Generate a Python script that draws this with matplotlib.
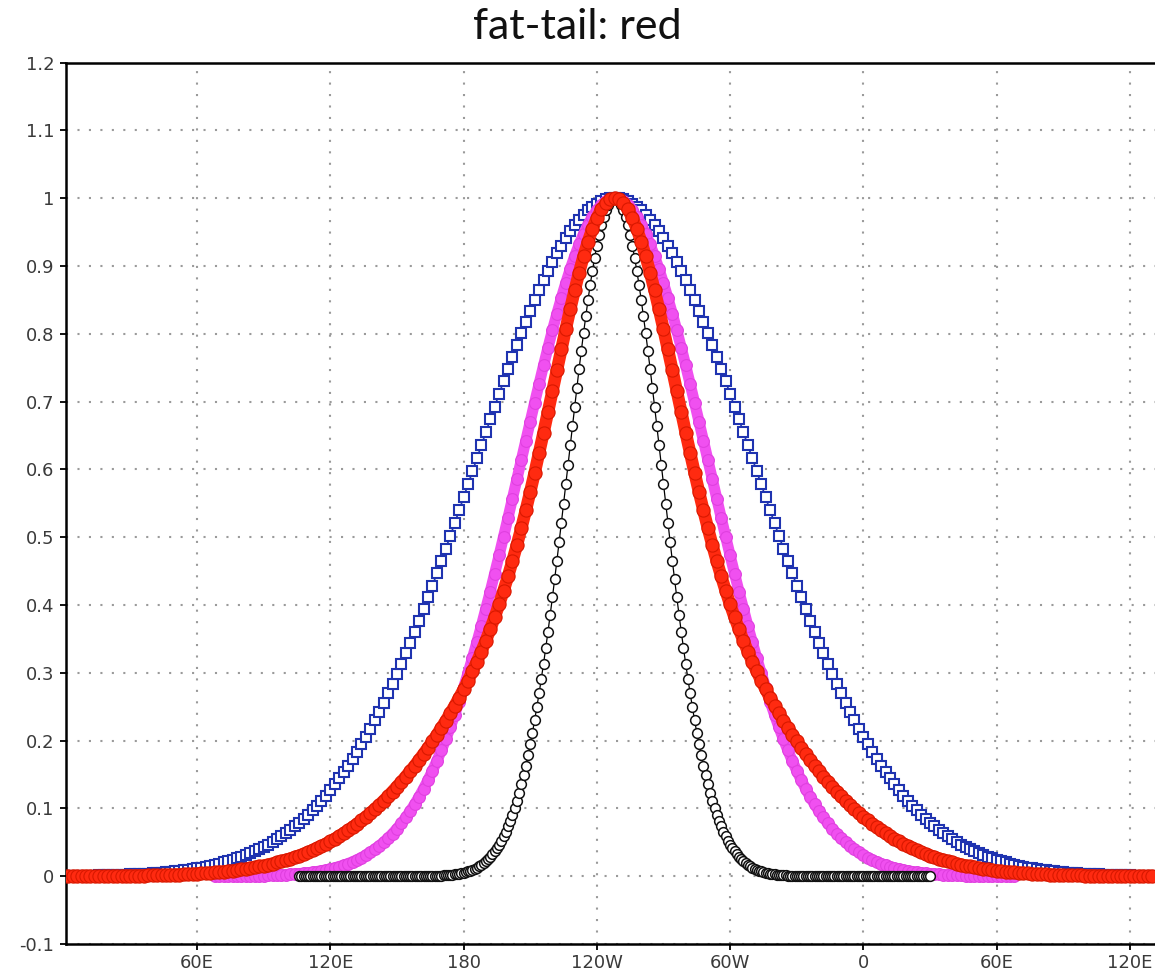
import numpy as np
import matplotlib
matplotlib.use('Agg')
import matplotlib.pyplot as plt

# ---------------- data ----------------
title_text = 'fat-tail: red'

xtick_pos = [60, 120, 180, 240, 300, 360, 420, 480]
xtick_lab = ['60E', '120E', '180', '120W', '60W', '0', '60E', '120E']
ytick_pos = [-0.1, 0.0, 0.1, 0.2, 0.3, 0.4, 0.5, 0.6, 0.7, 0.8, 0.9, 1.0, 1.1, 1.2]
ytick_lab = ['-0.1', '0', '0.1', '0.2', '0.3', '0.4', '0.5', '0.6', '0.7', '0.8',
             '0.9', '1', '1.1', '1.2']

# blue squares: longitudes 0..490 every 2 degrees
blue_lon = np.arange(0, 491, 2)
blue_val = [
    .0004, .0005, .0006, .0006, .0007,
    .0008, .0009, .0010, .0011, .0013,
    .0014, .0016, .0018, .0020, .0022,
    .0025, .0028, .0031, .0035, .0039,
    .0043, .0048, .0053, .0059, .0065,
    .0072, .0079, .0087, .0096, .0106,
    .0116, .0128, .0140, .0154, .0169,
    .0185, .0202, .0221, .0241, .0262,
    .0286, .0311, .0338, .0367, .0397,
    .0431, .0466, .0504, .0544, .0587,
    .0633, .0682, .0734, .0788, .0846,
    .0908, .0973, .1041, .1114, .1190,
    .1270, .1353, .1441, .1533, .1630,
    .1731, .1836, .1945, .2059, .2178,
    .2301, .2428, .2560, .2696, .2837,
    .2982, .3132, .3285, .3443, .3604,
    .3770, .3939, .4111, .4287, .4465,
    .4647, .4831, .5017, .5204, .5394,
    .5585, .5777, .5969, .6162, .6354,
    .6546, .6736, .6926, .7113, .7298,
    .7481, .7660, .7836, .8007, .8175,
    .8337, .8494, .8645, .8790, .8928,
    .9060, .9184, .9300, .9408, .9509,
    .9600, .9683, .9756, .9820, .9875,
    .9920, .9955, .9980, .9995, 1.0,
    .9995, .9980, .9955, .9920, .9875,
    .9820, .9756, .9683, .9600, .9509,
    .9408, .9300, .9184, .9060, .8928,
    .8790, .8645, .8494, .8337, .8175,
    .8007, .7836, .7660, .7481, .7298,
    .7113, .6926, .6736, .6546, .6354,
    .6162, .5969, .5777, .5585, .5394,
    .5204, .5017, .4831, .4647, .4465,
    .4287, .4111, .3939, .3770, .3604,
    .3443, .3285, .3132, .2982, .2837,
    .2696, .2560, .2428, .2301, .2178,
    .2059, .1945, .1836, .1731, .1630,
    .1533, .1441, .1353, .1270, .1190,
    .1114, .1041, .0973, .0908, .0846,
    .0788, .0734, .0682, .0633, .0587,
    .0544, .0504, .0466, .0431, .0397,
    .0367, .0338, .0311, .0286, .0262,
    .0241, .0221, .0202, .0185, .0169,
    .0154, .0140, .0128, .0116, .0106,
    .0096, .0087, .0079, .0072, .0065,
    .0059, .0053, .0048, .0043, .0039,
    .0035, .0031, .0028, .0025, .0022,
    .0020, .0018, .0016, .0014, .0013,
    .0011, .0010, .0009, .0008, .0007,
    .0006,
]

# red (fat tail): longitudes 0..490 every 2 degrees
red_lon = np.arange(0, 491, 2)
red_val = [
    .0001, .0001, .0001, .0002, .0002,
    .0002, .0002, .0002, .0003, .0003,
    .0004, .0004, .0005, .0005, .0006,
    .0007, .0008, .0009, .0010, .0011,
    .0012, .0014, .0015, .0017, .0019,
    .0022, .0024, .0027, .0030, .0033,
    .0037, .0041, .0045, .0050, .0056,
    .0061, .0068, .0075, .0082, .0090,
    .0099, .0109, .0119, .0131, .0143,
    .0156, .0170, .0186, .0202, .0220,
    .0239, .0259, .0281, .0304, .0329,
    .0355, .0383, .0413, .0445, .0478,
    .0514, .0551, .0591, .0633, .0677,
    .0723, .0771, .0822, .0876, .0931,
    .0990, .1050, .1113, .1180, .1249,
    .1320, .1393, .1470, .1549, .1631,
    .1716, .1804, .1894, .1988, .2086,
    .2187, .2291, .2400, .2513, .2631,
    .2754, .2884, .3020, .3163, .3313,
    .3473, .3642, .3820, .4009, .4210,
    .4422, .4647, .4884, .5133, .5394,
    .5667, .5950, .6242, .6541, .6847,
    .7155, .7464, .7770, .8070, .8361,
    .8639, .8900, .9140, .9357, .9547,
    .9706, .9833, .9925, .9981, 1.0,
    .9981, .9925, .9833, .9706, .9547,
    .9357, .9140, .8900, .8639, .8361,
    .8070, .7770, .7464, .7155, .6847,
    .6541, .6242, .5950, .5667, .5394,
    .5133, .4884, .4647, .4422, .4210,
    .4009, .3820, .3642, .3473, .3313,
    .3163, .3020, .2884, .2754, .2631,
    .2513, .2400, .2291, .2187, .2086,
    .1988, .1894, .1804, .1716, .1631,
    .1549, .1470, .1393, .1320, .1249,
    .1180, .1113, .1050, .0990, .0931,
    .0876, .0822, .0771, .0723, .0677,
    .0633, .0591, .0551, .0514, .0478,
    .0445, .0413, .0383, .0355, .0329,
    .0304, .0281, .0259, .0239, .0220,
    .0202, .0186, .0170, .0156, .0143,
    .0131, .0119, .0109, .0099, .0090,
    .0082, .0075, .0068, .0061, .0056,
    .0050, .0045, .0041, .0037, .0033,
    .0030, .0027, .0024, .0022, .0019,
    .0017, .0015, .0014, .0012, .0011,
    .0010, .0009, .0008, .0007, .0006,
    .0005, .0005, .0004, .0004, .0003,
    .0003, .0002, .0002, .0002, .0002,
    .0002,
]

# magenta: longitudes 68..428 every 2 degrees
magenta_lon = np.arange(68, 429, 2)
magenta_val = [
    .0001,
    .0002, .0002, .0002, .0003, .0003,
    .0004, .0005, .0006, .0007, .0008,
    .0010, .0012, .0014, .0017, .0020,
    .0023, .0027, .0032, .0038, .0044,
    .0051, .0060, .0069, .0080, .0093,
    .0107, .0123, .0142, .0162, .0186,
    .0212, .0241, .0274, .0311, .0351,
    .0396, .0446, .0501, .0561, .0628,
    .0700, .0780, .0866, .0960, .1062,
    .1172, .1291, .1418, .1555, .1701,
    .1856, .2021, .2196, .2381, .2576,
    .2780, .2994, .3218, .3450, .3691,
    .3941, .4197, .4461, .4731, .5006,
    .5285, .5567, .5851, .6137, .6422,
    .6705, .6985, .7261, .7532, .7795,
    .8049, .8293, .8526, .8746, .8952,
    .9142, .9316, .9472, .9609, .9727,
    .9824, .9901, .9956, .9989, 1.0,
    .9989, .9956, .9901, .9824, .9727,
    .9609, .9472, .9316, .9142, .8952,
    .8746, .8526, .8293, .8049, .7795,
    .7532, .7261, .6985, .6705, .6422,
    .6137, .5851, .5567, .5285, .5006,
    .4731, .4461, .4197, .3941, .3691,
    .3450, .3218, .2994, .2780, .2576,
    .2381, .2196, .2021, .1856, .1701,
    .1555, .1418, .1291, .1172, .1062,
    .0960, .0866, .0780, .0700, .0628,
    .0561, .0501, .0446, .0396, .0351,
    .0311, .0274, .0241, .0212, .0186,
    .0162, .0142, .0123, .0107, .0093,
    .0080, .0069, .0060, .0051, .0044,
    .0038, .0032, .0027, .0023, .0020,
    .0017, .0014, .0012, .0010, .0008,
    .0007, .0006, .0005, .0004, .0003,
    .0003, .0002, .0002, .0002, .0001,
]

# black circles (narrow): longitudes 106..390 every degree
black_lon = np.arange(106, 391, 1)
black_val = [
    0, 0, 0, 0,
    0, 0, 0, 0, 0, 0, 0, 0, 0, 0,
    0, 0, 0, 0, 0, 0, 0, 0, 0, 0,
    0, 0, 0, 0, 0, 0, 0, 0, 0, 0,
    0, 0, 0, 0, 0, 0, 0, 0, 0, 0,
    0, 0, 0, 0, 0, 0, 0, 0, .0001, .0001,
    .0002, .0002, .0002, .0003, .0003, .0004, .0005, .0006, .0007, .0008,
    .0010, .0012, .0014, .0017, .0020, .0024, .0028, .0033, .0039, .0045,
    .0053, .0062, .0072, .0083, .0096, .0111, .0128, .0147, .0169, .0193,
    .0221, .0251, .0286, .0324, .0367, .0414, .0466, .0524, .0587, .0657,
    .0734, .0817, .0908, .1007, .1114, .1229, .1353, .1487, .1630, .1783,
    .1945, .2118, .2301, .2494, .2696, .2909, .3132, .3364, .3604, .3854,
    .4111, .4376, .4647, .4923, .5204, .5490, .5777, .6065, .6354, .6641,
    .6926, .7206, .7481, .7748, .8007, .8256, .8494, .8718, .8928, .9123,
    .9300, .9460, .9600, .9721, .9820, .9898, .9955, .9989, 1.0, .9989,
    .9955, .9898, .9820, .9721, .9600, .9460, .9300, .9123, .8928, .8718,
    .8494, .8256, .8007, .7748, .7481, .7206, .6926, .6641, .6354, .6065,
    .5777, .5490, .5204, .4923, .4647, .4376, .4111, .3854, .3604, .3364,
    .3132, .2909, .2696, .2494, .2301, .2118, .1945, .1783, .1630, .1487,
    .1353, .1229, .1114, .1007, .0908, .0817, .0734, .0657, .0587, .0524,
    .0466, .0414, .0367, .0324, .0286, .0251, .0221, .0193, .0169, .0147,
    .0128, .0111, .0096, .0083, .0072, .0062, .0053, .0045, .0039, .0033,
    .0028, .0024, .0020, .0017, .0014, .0012, .0010, .0008, .0007, .0006,
    .0005, .0004, .0003, .0003, .0002, .0002, .0002, .0001, .0001, 0,
    0, 0, 0, 0, 0, 0, 0, 0, 0, 0,
    0, 0, 0, 0, 0, 0, 0, 0, 0, 0,
    0, 0, 0, 0, 0, 0, 0, 0, 0, 0,
    0, 0, 0, 0, 0, 0, 0, 0, 0, 0,
    0, 0, 0, 0, 0, 0, 0, 0, 0, 0,
    0,
]

# ---------------- figure ----------------
W, H = 1155, 974
fig = plt.figure(figsize=(W / 100, H / 100), dpi=100)
fig.patch.set_facecolor('white')
ax = fig.add_axes([66 / W, 30 / H, (W - 66) / W, 881.5 / H])

ax.set_xlim(1.0, 491.3)
ax.set_ylim(-0.1, 1.2)

ax.plot(blue_lon, blue_val, color='#1f33b0', lw=1.2, marker='s', ms=7.5,
        mfc='white', mec='#1f33b0', mew=1.5, zorder=3)
ax.plot(magenta_lon, magenta_val, color='#f050f0', lw=8, marker='o', ms=8.5,
        mfc='#f050f0', mec='#e040e0', mew=0.8, zorder=4,
        solid_capstyle='round')
ax.plot(black_lon, black_val, color='black', lw=0.9, marker='o', ms=7,
        mfc='white', mec='#111111', mew=1.1, zorder=5)
ax.plot(red_lon, red_val, color='#ff2a10', lw=9, marker='o', ms=9.5,
        mfc='#ff2a10', mec='#d81800', mew=0.8, zorder=6,
        solid_capstyle='round')

ax.set_xticks(xtick_pos)
ax.set_xticklabels(xtick_lab)
ax.set_yticks(ytick_pos)
ax.set_yticklabels(ytick_lab)

ax.grid(True, linestyle=(0, (1, 4.5)), linewidth=1.5, color='#9a9a9a')
ax.set_axisbelow(True)

ax.tick_params(axis='both', direction='out', length=4.3, width=1.3,
               colors='black', labelcolor='#3a3a3a', labelsize=13)
ax.tick_params(axis='x', pad=3)
ax.tick_params(axis='y', pad=4)

for side in ('left', 'top', 'bottom'):
    ax.spines[side].set_linewidth(1.8)
    ax.spines[side].set_color('black')
ax.spines['right'].set_visible(False)

fig.text(577 / W, 1 - 27 / H, title_text, ha='center', va='center',
         fontsize=31, color='#111111', family=['Lato', 'DejaVu Sans'],
         fontweight='normal')

fig.savefig('out.png', dpi=100, facecolor='white')
